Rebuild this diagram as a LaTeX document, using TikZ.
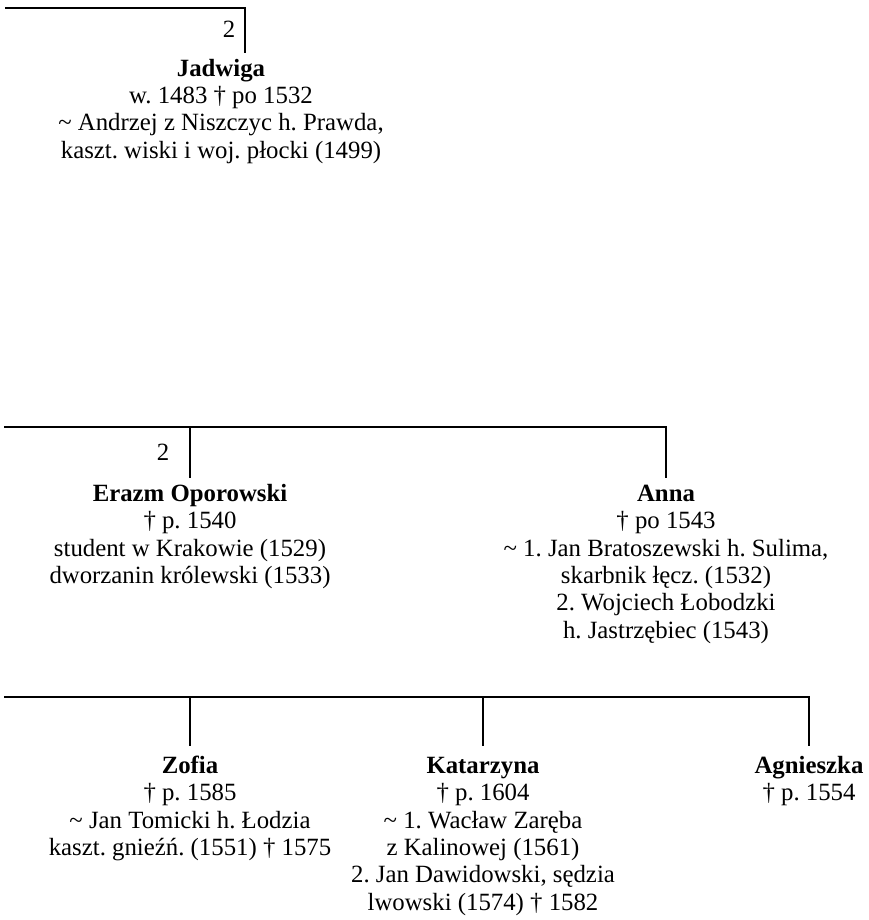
\documentclass[tikz,border=0pt]{standalone}
\usepackage{fontspec}
\setmainfont{Liberation Serif}
\frenchspacing
\newcommand{\firstline}{\rule{0pt}{20pt}}
\begin{document}
\begin{tikzpicture}[x=1pt,y=-1pt,
  line/.style={line width=2.4pt,line cap=butt},
  person/.style={anchor=north,inner sep=0pt,align=center,
    font=\fontsize{24.8}{27.4}\selectfont},
  num/.style={anchor=base,inner sep=0pt,font=\fontsize{24.8}{27.4}\selectfont}]
\useasboundingbox (0,0) rectangle (869,920);
% generation 1
\coordinate (t0) at (5,8);
\coordinate (t1) at (245,8);
\coordinate (t1b) at (245,53);
\node[num] (n1) at (229,38) {2};
\node[person] (jadwiga) at (221,56) {\firstline\textbf{Jadwiga}\\w. 1483 † po 1532\\\textasciitilde{} Andrzej z Niszczyc h. Prawda,\\kaszt. wiski i woj. płocki (1499)};
\draw[line] (t0) -- (t1) -- (t1b);
% generation 2
\coordinate (s0) at (4,427);
\coordinate (s1) at (190,427);
\coordinate (s1b) at (190,478);
\coordinate (s2) at (666,427);
\coordinate (s2b) at (666,478);
\node[num] (n2) at (163,460) {2};
\node[person] (erazm) at (190,481) {\firstline\textbf{Erazm Oporowski}\\† p. 1540\\student w Krakowie (1529)\\dworzanin królewski (1533)};
\node[person] (anna) at (666,481) {\firstline\textbf{Anna}\\† po 1543\\\textasciitilde{} 1. Jan Bratoszewski h. Sulima,\\skarbnik łęcz. (1532)\\2. Wojciech Łobodzki\\h. Jastrzębiec (1543)};
\draw[line] (s0) -- (s2) -- (s2b);
\draw[line] (s1) -- (s1b);
% generation 3
\coordinate (u0) at (4,697);
\coordinate (u1) at (190,697);
\coordinate (u1b) at (190,746);
\coordinate (u2) at (483,697);
\coordinate (u2b) at (483,746);
\coordinate (u3) at (809,697);
\coordinate (u3b) at (809,746);
\node[person] (zofia) at (190,753) {\firstline\textbf{Zofia}\\† p. 1585\\\textasciitilde{} Jan Tomicki h. Łodzia\\kaszt. gnieźń. (1551) † 1575};
\node[person] (katarzyna) at (483,753) {\firstline\textbf{Katarzyna}\\† p. 1604\\\textasciitilde{} 1. Wacław Zaręba\\z Kalinowej (1561)\\2. Jan Dawidowski, sędzia\\lwowski (1574) † 1582};
\node[person] (agnieszka) at (809,753) {\firstline\textbf{Agnieszka}\\† p. 1554};
\draw[line] (u0) -- (u3) -- (u3b);
\draw[line] (u1) -- (u1b);
\draw[line] (u2) -- (u2b);
\end{tikzpicture}
\end{document}
